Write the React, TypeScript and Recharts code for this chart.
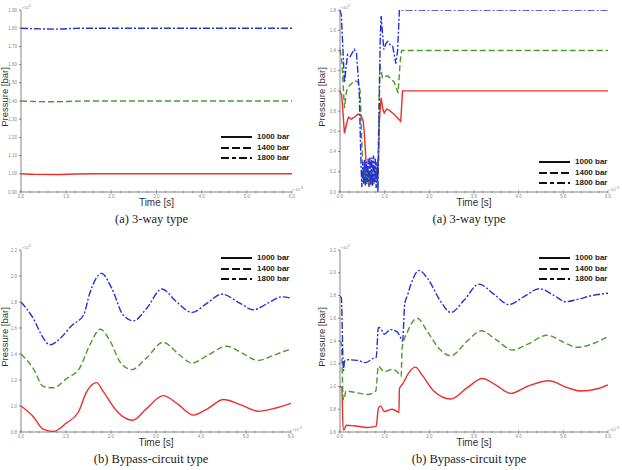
import React from "react";
import { LineChart, Line, XAxis, YAxis, Legend } from "recharts";

type Pt = [number, number];

// legend entries and line styles
const seriesNames = ["1000 bar", "1400 bar", "1800 bar"];
const seriesColors = ["#e8302c", "#4b9a2c", "#2430d8"];
const seriesDashes = ["", "6 3", "7 2 2 2"];
const legendDashes = ["", "8 3", "8 3 4 3"];

// time axis, in units of 1e-3 s
const timeTicks = [0, 1, 2, 3, 4, 5, 6];
const minorStep = 0.2;

// y tick labels (x 10^3 bar)
const yTicks1 = [0.9, 1.0, 1.1, 1.2, 1.3, 1.4, 1.5, 1.6, 1.7, 1.8, 1.9];
const yTicks2 = [0, 0.2, 0.4, 0.6, 0.8, 1.0, 1.2, 1.4, 1.6, 1.8];
const yTicks3 = [0.8, 1.0, 1.2, 1.4, 1.6, 1.8, 2.0, 2.2];
const yTicks4 = [0.6, 0.8, 1.0, 1.2, 1.4, 1.6, 1.8, 2.0, 2.2];

// (a) 3-way type, first run
const a1_1000: Pt[] = [[0, 1.0], [0.3, 0.997], [0.8, 0.996], [1.2, 0.999], [1.6, 1.0], [6, 1.0]];
const a1_1400: Pt[] = [[0, 1.40], [0.3, 1.397], [0.8, 1.396], [1.2, 1.399], [1.6, 1.40], [6, 1.40]];
const a1_1800: Pt[] = [[0, 1.80], [0.3, 1.797], [0.8, 1.795], [1.2, 1.799], [1.6, 1.80], [6, 1.80]];

// (a) 3-way type, second run
const a2_1000: Pt[] = [
  [0, 1.0], [0.04, 0.95], [0.1, 0.58], [0.15, 0.68], [0.19, 0.74], [0.25, 0.72], [0.32, 0.74],
  [0.4, 0.77], [0.47, 0.76], [0.52, 0.7], [0.55, 0.55], [0.58, 0.31], [0.6, 0.12], [0.62, 0.2],
  [0.64, 0.07], [0.66, 0.18], [0.68, 0.08], [0.7, 0.15], [0.72, 0.06], [0.74, 0.16], [0.76, 0.1],
  [0.78, 0.18], [0.8, 0.12], [0.82, 0.22], [0.84, 0.15], [0.86, 0.3], [0.88, 0.7], [0.92, 0.93],
  [0.96, 0.82], [0.99, 0.78], [1.04, 0.82], [1.1, 0.81], [1.21, 0.77], [1.36, 0.7], [1.4, 1.0], [6, 1.0],
];
const a2_1400: Pt[] = [
  [0, 1.41], [0.04, 1.3], [0.1, 0.83], [0.14, 0.98], [0.17, 1.03], [0.23, 1.06], [0.28, 1.08],
  [0.32, 1.1], [0.4, 1.09], [0.45, 1.0], [0.5, 0.35], [0.52, 0.12], [0.54, 0.25], [0.56, 0.06],
  [0.58, 0.22], [0.6, 0.08], [0.62, 0.24], [0.64, 0.1], [0.66, 0.26], [0.68, 0.07], [0.7, 0.22],
  [0.72, 0.1], [0.74, 0.25], [0.76, 0.08], [0.78, 0.22], [0.8, 0.1], [0.82, 0.2], [0.84, 0.12],
  [0.86, 0.5], [0.89, 1.27], [0.95, 1.13], [1.0, 1.14], [1.07, 1.15], [1.15, 1.11], [1.21, 1.09],
  [1.3, 0.98], [1.35, 1.3], [1.38, 1.4], [6, 1.4],
];
const a2_1800: Pt[] = [
  [0, 1.8], [0.03, 1.75], [0.1, 1.08], [0.14, 1.25], [0.17, 1.36], [0.23, 1.34], [0.28, 1.38],
  [0.32, 1.41], [0.37, 1.37], [0.43, 1.0], [0.47, 0.28], [0.49, 0.05], [0.51, 0.3], [0.53, 0.08],
  [0.55, 0.32], [0.57, 0.06], [0.59, 0.3], [0.61, 0.1], [0.63, 0.33], [0.65, 0.05], [0.67, 0.35],
  [0.69, 0.08], [0.71, 0.34], [0.73, 0.06], [0.75, 0.36], [0.77, 0.1], [0.79, 0.33], [0.81, 0.04],
  [0.83, 0.3], [0.85, 0.0], [0.9, 1.5], [0.92, 1.74], [0.98, 1.41], [1.03, 1.47], [1.07, 1.49],
  [1.13, 1.45], [1.18, 1.44], [1.25, 1.27], [1.29, 1.4], [1.33, 1.8], [6, 1.8],
];

// (b) bypass-circuit type, first run
const b1_1000: Pt[] = [
  [0, 1.0], [0.27, 0.92], [0.5, 0.82], [0.72, 0.805], [1.01, 0.87], [1.27, 0.95], [1.46, 1.11],
  [1.68, 1.18], [1.83, 1.11], [2.13, 0.96], [2.48, 0.89], [2.79, 0.98], [3.16, 1.08], [3.5, 1.01],
  [3.83, 0.93], [4.15, 0.98], [4.5, 1.05], [4.87, 1.01], [5.27, 0.96], [5.61, 0.98], [6.0, 1.02],
];
const b1_1400: Pt[] = [
  [0, 1.4], [0.27, 1.29], [0.5, 1.15], [0.72, 1.14], [1.01, 1.21], [1.3, 1.29], [1.53, 1.47],
  [1.76, 1.59], [1.98, 1.5], [2.2, 1.34], [2.46, 1.28], [2.79, 1.37], [3.16, 1.49], [3.5, 1.4],
  [3.8, 1.33], [4.15, 1.39], [4.57, 1.46], [4.9, 1.41], [5.27, 1.35], [5.61, 1.39], [6.0, 1.44],
];
const b1_1800: Pt[] = [
  [0, 1.8], [0.27, 1.675], [0.5, 1.52], [0.64, 1.47], [0.87, 1.52], [1.13, 1.62], [1.39, 1.7],
  [1.53, 1.87], [1.79, 2.02], [2.01, 1.91], [2.27, 1.7], [2.5, 1.655], [2.79, 1.75], [3.13, 1.9],
  [3.46, 1.8], [3.8, 1.72], [4.13, 1.79], [4.46, 1.86], [4.87, 1.79], [5.16, 1.74], [5.53, 1.8],
  [5.79, 1.84], [6.0, 1.83],
];

// (b) bypass-circuit type, second run
const b2_1000: Pt[] = [
  [0, 1.0], [0.04, 0.99], [0.07, 0.62], [0.09, 0.62], [0.14, 0.66], [0.31, 0.655], [0.61, 0.64],
  [0.81, 0.65], [0.86, 0.81], [0.91, 0.83], [0.99, 0.78], [1.17, 0.8], [1.28, 0.78], [1.32, 0.77],
  [1.33, 0.98], [1.4, 1.02], [1.54, 1.12], [1.69, 1.17], [1.84, 1.1], [2.1, 0.96], [2.48, 0.89],
  [2.85, 0.99], [3.19, 1.07], [3.5, 1.01], [3.82, 0.94], [4.19, 1.0], [4.68, 1.05], [5.09, 0.99],
  [5.39, 0.96], [5.76, 0.98], [6.0, 1.015],
];
const b2_1400: Pt[] = [
  [0, 1.4], [0.03, 1.38], [0.07, 0.9], [0.09, 0.88], [0.13, 0.96], [0.31, 0.95], [0.61, 0.93],
  [0.8, 0.96], [0.86, 1.18], [0.91, 1.16], [0.99, 1.13], [1.17, 1.15], [1.28, 1.13], [1.37, 1.09],
  [1.39, 1.34], [1.51, 1.48], [1.73, 1.6], [1.96, 1.48], [2.25, 1.32], [2.48, 1.27], [2.85, 1.4],
  [3.16, 1.49], [3.5, 1.41], [3.86, 1.32], [4.19, 1.37], [4.64, 1.45], [5.0, 1.39], [5.31, 1.345],
  [5.69, 1.38], [6.0, 1.44],
];
const b2_1800: Pt[] = [
  [0, 1.79], [0.03, 1.78], [0.07, 1.19], [0.08, 1.14], [0.1, 1.22], [0.16, 1.235], [0.39, 1.23],
  [0.57, 1.21], [0.76, 1.25], [0.81, 1.255], [0.86, 1.52], [0.91, 1.51], [0.99, 1.46], [1.13, 1.5],
  [1.28, 1.48], [1.37, 1.42], [1.4, 1.4], [1.45, 1.73], [1.51, 1.8], [1.58, 1.89], [1.77, 2.02],
  [1.96, 1.95], [2.25, 1.75], [2.48, 1.65], [2.78, 1.76], [3.11, 1.9], [3.45, 1.81], [3.78, 1.72],
  [4.12, 1.79], [4.46, 1.86], [4.79, 1.8], [5.05, 1.745], [5.31, 1.765], [5.65, 1.8], [6.0, 1.82],
];

const sansFont = "'Liberation Sans', Arial, sans-serif";
const serifFont = "'Liberation Serif', 'Times New Roman', serif";

const allTimeTicks: number[] = [];
for (let i = 0; i <= 30; i++) allTimeTicks.push(Math.round(i * minorStep * 10) / 10);

const TimeTick = (props: any) => {
  const { x, y, payload } = props;
  const v = payload.value as number;
  const major = timeTicks.includes(v);
  return (
    <g>
      <line x1={x} x2={x} y1={y - (major ? 2 : 1.2)} y2={y + (major ? 2 : 1.2)} stroke="#777" strokeWidth={0.6} />
      {major && (
        <text x={x} y={y + 6} textAnchor="middle" fontSize={4.5} fill="#888" fontFamily={sansFont}>
          {v.toFixed(1)}
        </text>
      )}
    </g>
  );
};

const PressureLegend = () => (
  <div style={{ fontFamily: sansFont }}>
    {seriesNames.map((name, i) => (
      <div key={name} style={{ display: "flex", alignItems: "center", height: 10.5 }}>
        <svg width={31} height={6}>
          <line x1={0} x2={31} y1={3} y2={3} stroke="#111" strokeWidth={2} strokeDasharray={legendDashes[i]} />
        </svg>
        <span style={{ marginLeft: 5, fontSize: 8, fontWeight: 700, color: "#222", lineHeight: "10px" }}>{name}</span>
      </div>
    ))}
  </div>
);

interface PanelProps {
  left: number;
  top: number;
  series: Pt[][];
  yDomain: [number, number];
  yTicks: number[];
  yDigits: number;
  yAxisWidth: number;
  plotTop: number;
  plotRight: number;
  plotBottom: number;
  curve: "linear" | "monotone";
  legendLeft: number;
  legendTop: number;
  yTitleX: number;
  caption: string;
}

const W = 311;
const H = 235;

const smallNote: React.CSSProperties = {
  position: "absolute",
  fontSize: 4,
  color: "#888",
  fontFamily: sansFont,
  lineHeight: "5px",
  whiteSpace: "nowrap",
};

function Panel(p: PanelProps) {
  const xAxisHeight = 14;
  const plotMidX = (p.yAxisWidth + p.plotRight) / 2;
  const plotMidY = (p.plotTop + p.plotBottom) / 2;
  return (
    <div style={{ position: "absolute", left: p.left, top: p.top, width: W, height: H }}>
      <LineChart
        width={W}
        height={H}
        margin={{ top: p.plotTop, right: W - p.plotRight, left: 0, bottom: H - p.plotBottom - xAxisHeight }}
      >
        <XAxis
          dataKey="t"
          type="number"
          domain={[0, 6]}
          ticks={allTimeTicks}
          interval={0}
          tick={<TimeTick />}
          tickSize={0}
          tickMargin={0}
          tickLine={false}
          height={xAxisHeight}
          stroke="#666"
          strokeWidth={0.8}
        />
        <YAxis
          type="number"
          domain={p.yDomain}
          ticks={p.yTicks}
          interval={0}
          width={p.yAxisWidth}
          tickFormatter={(v: number) => v.toFixed(p.yDigits)}
          tick={{ fontSize: 4.5, fill: "#888", fontFamily: sansFont }}
          tickSize={2}
          tickMargin={2}
          stroke="#666"
          strokeWidth={0.8}
          allowDataOverflow
        />
        <Legend
          layout="vertical"
          align="center"
          verticalAlign="middle"
          content={() => <PressureLegend />}
          wrapperStyle={{ left: p.legendLeft, top: p.legendTop, width: 95, height: 34 }}
        />
        {p.series.map((s, i) => (
          <Line
            key={seriesNames[i]}
            name={seriesNames[i]}
            data={s.map(([t, v]) => ({ t, v }))}
            dataKey="v"
            type={p.curve}
            stroke={seriesColors[i]}
            strokeWidth={1.4}
            strokeDasharray={seriesDashes[i]}
            dot={false}
            isAnimationActive={false}
          />
        ))}
      </LineChart>
      <div style={{ ...smallNote, left: p.yAxisWidth + 1, top: p.plotTop - 6 }}>
        ×10<sup>3</sup>
      </div>
      <div style={{ ...smallNote, left: p.plotRight + 1, top: p.plotBottom - 6 }}>
        ×10<sup>-3</sup>
      </div>
      {/* axis titles */}
      <div
        style={{
          position: "absolute",
          left: p.yTitleX - 40,
          top: plotMidY - 4 - 6,
          width: 80,
          height: 12,
          lineHeight: "12px",
          textAlign: "center",
          transform: "rotate(-90deg)",
          fontSize: 9.5,
          color: "#333",
          fontFamily: sansFont,
        }}
      >
        Pressure [bar]
      </div>
      <div
        style={{
          position: "absolute",
          left: plotMidX - 40,
          top: p.plotBottom + 11 - 6,
          width: 80,
          height: 12,
          lineHeight: "12px",
          textAlign: "center",
          fontSize: 10,
          color: "#333",
          fontFamily: sansFont,
        }}
      >
        Time [s]
      </div>
      <div
        style={{
          position: "absolute",
          left: plotMidX - 5 - 100,
          top: p.plotBottom + 27 - 8,
          width: 200,
          height: 16,
          lineHeight: "16px",
          textAlign: "center",
          fontSize: 12.5,
          color: "#222",
          fontFamily: serifFont,
        }}
      >
        {p.caption}
      </div>
    </div>
  );
}

export default function App() {
  return (
    <div style={{ position: "absolute", left: 0, top: 0, width: 622, height: 470, background: "#fff" }}>
      <Panel
        left={0}
        top={0}
        series={[a1_1000, a1_1400, a1_1800]}
        yDomain={[0.9, 1.9]}
        yTicks={yTicks1}
        yDigits={2}
        yAxisWidth={21}
        plotTop={10}
        plotRight={292}
        plotBottom={192}
        curve="monotone"
        legendLeft={221}
        legendTop={132}
        yTitleX={5}
        caption="(a) 3-way type"
      />
      <Panel
        left={311}
        top={0}
        series={[a2_1000, a2_1400, a2_1800]}
        yDomain={[0, 1.8]}
        yTicks={yTicks2}
        yDigits={1}
        yAxisWidth={29}
        plotTop={10}
        plotRight={297}
        plotBottom={192}
        curve="linear"
        legendLeft={228}
        legendTop={157}
        yTitleX={11}
        caption="(a) 3-way type"
      />
      <Panel
        left={0}
        top={235}
        series={[b1_1000, b1_1400, b1_1800]}
        yDomain={[0.8, 2.2]}
        yTicks={yTicks3}
        yDigits={1}
        yAxisWidth={21}
        plotTop={15}
        plotRight={291}
        plotBottom={197}
        curve="monotone"
        legendLeft={221}
        legendTop={18}
        yTitleX={5}
        caption="(b) Bypass-circuit type"
      />
      <Panel
        left={311}
        top={235}
        series={[b2_1000, b2_1400, b2_1800]}
        yDomain={[0.6, 2.2]}
        yTicks={yTicks4}
        yDigits={1}
        yAxisWidth={29}
        plotTop={15}
        plotRight={297}
        plotBottom={197}
        curve="monotone"
        legendLeft={228}
        legendTop={18}
        yTitleX={11}
        caption="(b) Bypass-circuit type"
      />
    </div>
  );
}
